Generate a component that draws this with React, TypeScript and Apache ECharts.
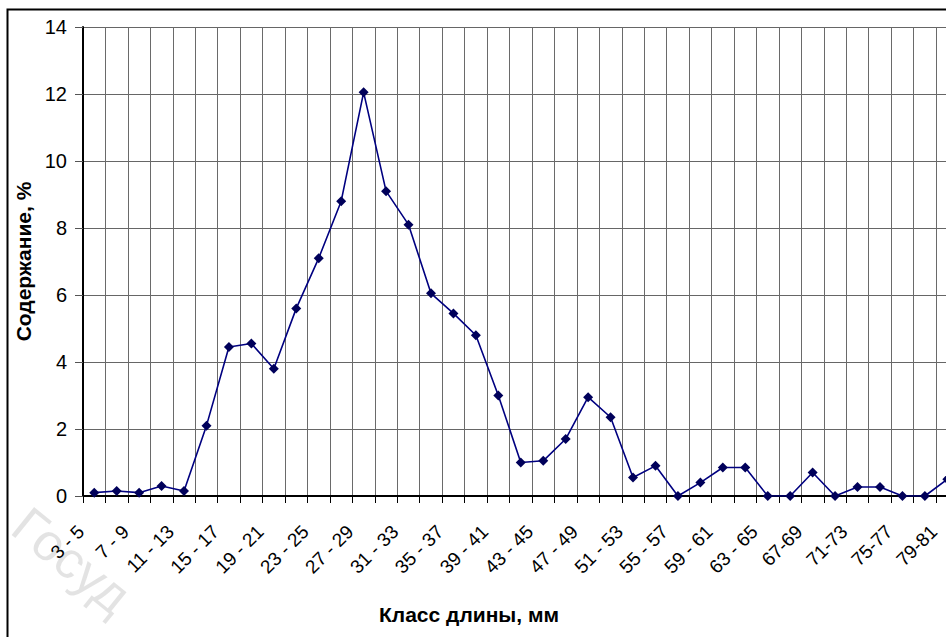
import React, { useEffect, useRef } from "react";
import * as echarts from "echarts";

const categories: string[] = [
  "3 - 5", "5 - 7", "7 - 9", "9 - 11", "11 - 13", "13 - 15", "15 - 17", "17 - 19",
  "19 - 21", "21 - 23", "23 - 25", "25 - 27", "27 - 29", "29 - 31", "31 - 33", "33 - 35",
  "35 - 37", "37 - 39", "39 - 41", "41 - 43", "43 - 45", "45 - 47", "47 - 49", "49 - 51",
  "51 - 53", "53 - 55", "55 - 57", "57 - 59", "59 - 61", "61 - 63", "63 - 65", "65-67",
  "67-69", "69-71", "71-73", "73-75", "75-77", "77-79", "79-81",
];

const content: number[] = [
  0.1, 0.15, 0.1, 0.3, 0.15, 2.1, 4.45, 4.55, 3.8, 5.6, 7.1, 8.8, 12.05, 9.1, 8.1, 6.05,
  5.45, 4.8, 3.0, 1.0, 1.05, 1.7, 2.95, 2.35, 0.55, 0.9, 0.0, 0.4, 0.85, 0.85, 0.0, 0.0,
  0.7, 0.0, 0.27, 0.27, 0.0, 0.0, 0.5,
];

const yTicks = { min: 0, max: 14, interval: 2 };
const yAxisTitle = "Содержание, %";
const xAxisTitle = "Класс длины, мм";
const watermark = "Госуд";

export default function App() {
  const ref = useRef<HTMLDivElement>(null);
  useEffect(() => {
    if (!ref.current) return;
    const chart = echarts.init(ref.current, undefined, { renderer: "svg" });
    const font = "'Liberation Sans', Arial, sans-serif";
    chart.setOption({
      animation: false,
      backgroundColor: "#ffffff",
      textStyle: { fontFamily: font },
      grid: { left: 83, top: 27, width: 39 * 22.45, height: 469, containLabel: false },
      xAxis: {
        type: "category",
        data: categories,
        boundaryGap: true,
        axisLine: { show: true, lineStyle: { color: "#000", width: 2 } },
        axisTick: { show: true, interval: 0, length: 7, lineStyle: { color: "#000", width: 1 } },
        axisLabel: {
          interval: 1,
          rotate: 45,
          margin: 19,
          padding: [0, 19, 0, 0],
          color: "#000",
          fontSize: 19,
          fontFamily: font,
        },
        splitLine: { show: true, interval: 0, lineStyle: { color: "#6a6a6a", width: 1 } },
      },
      yAxis: {
        type: "value",
        min: yTicks.min,
        max: yTicks.max,
        interval: yTicks.interval,
        name: yAxisTitle,
        nameLocation: "middle",
        nameGap: 46,
        nameTextStyle: { fontSize: 21, fontWeight: "bold", color: "#000", fontFamily: font },
        axisLine: { show: true, lineStyle: { color: "#000", width: 2 } },
        axisTick: { show: true, length: 8, lineStyle: { color: "#555", width: 1 } },
        axisLabel: { color: "#000", fontSize: 20, margin: 16, fontFamily: font },
        splitLine: { show: true, lineStyle: { color: "#666", width: 1 } },
      },
      series: [
        {
          type: "line",
          data: content,
          symbol: "diamond",
          symbolSize: 10,
          lineStyle: { color: "#000080", width: 1.6 },
          itemStyle: { color: "#00005a" },
          z: 5,
        },
      ],
      graphic: [
        {
          type: "rect",
          shape: { x: 7.5, y: 9.5, width: 1000, height: 700 },
          style: { fill: "none", stroke: "#000", lineWidth: 2 },
          silent: true,
          z: 100,
        },
        {
          type: "text",
          x: 469,
          y: 614,
          style: {
            text: xAxisTitle,
            fontSize: 21,
            fontWeight: "bold",
            fill: "#000",
            align: "center",
            verticalAlign: "middle",
            fontFamily: font,
          },
        },
        {
          type: "text",
          x: 36,
          y: 498,
          rotation: -0.68,
          style: {
            text: watermark,
            fontSize: 52,
            lineHeight: 52,
            fill: "rgba(0,0,0,0.11)",
            align: "left",
            verticalAlign: "top",
            fontFamily: font,
          },
          silent: true,
          z: -1,
        },
      ],
    });
    return () => chart.dispose();
  }, []);
  return (
    <div style={{ position: "fixed", left: 0, top: 0, width: 946, height: 637, overflow: "hidden" }}>
      <div ref={ref} style={{ width: 990, height: 637 }} />
    </div>
  );
}
